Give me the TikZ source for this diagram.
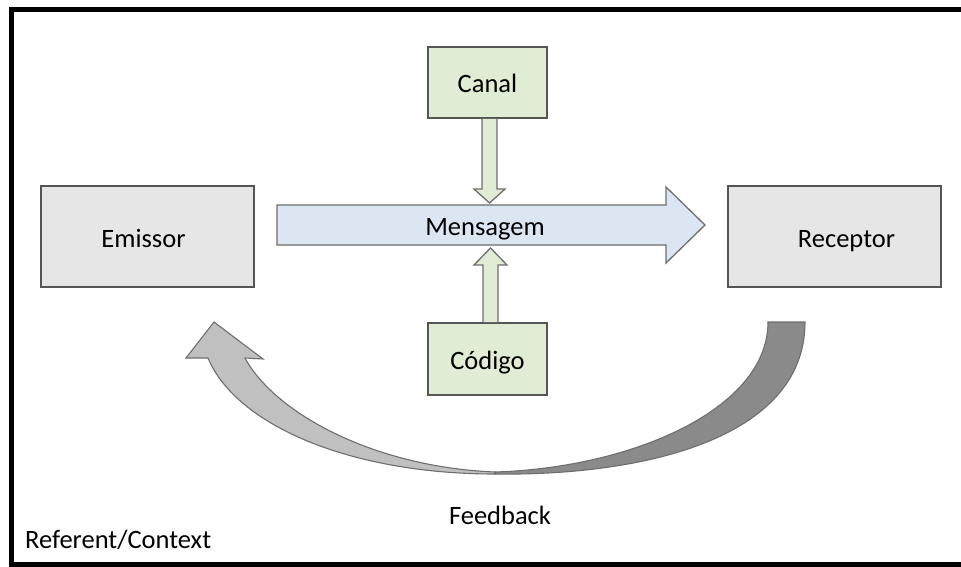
\documentclass[tikz,border=0pt]{standalone}
\usepackage{fontspec}
\setmainfont{Carlito}
\usetikzlibrary{calc}
\definecolor{boxgray}{RGB}{230,230,230}
\definecolor{boxgreen}{RGB}{225,236,213}
\definecolor{msgblue}{RGB}{220,230,242}
\definecolor{edgecol}{RGB}{85,85,85}
\definecolor{arrowedge}{RGB}{110,110,110}
\definecolor{fbdark}{RGB}{138,138,138}
\definecolor{fblight}{RGB}{192,192,192}
\begin{document}
\begin{tikzpicture}[x=1pt,y=-1pt,
  font=\fontsize{26.5}{30}\selectfont,
  graybox/.style={draw=edgecol, line width=1.6pt, fill=boxgray, inner sep=0pt, text height=21pt, text depth=0pt},
  greenbox/.style={draw=edgecol, line width=1.6pt, fill=boxgreen, inner sep=0pt, text height=21pt, text depth=0pt},
  blockarrow/.style={draw=arrowedge, line width=1.3pt, line join=miter},
  plaintext/.style={inner sep=0pt, text height=21pt, text depth=0pt}]
\useasboundingbox (0,0) rectangle (961,567);
\fill[white] (0,0) rectangle (961,567);
% frame
\draw[line width=5.5pt, line join=miter] (961,9.5) -- (11.5,9.5) -- (11.5,564.5) -- (961,564.5);

% boxes
\node[graybox, minimum width=213pt, minimum height=101pt] (emissor) at (147.5,236.5) {\hspace*{-8pt}Emissor};
\node[graybox, minimum width=213pt, minimum height=101pt] (receptor) at (834.5,236.5) {\hspace*{24pt}Receptor};
\node[greenbox, minimum width=119pt, minimum height=71pt] (canal) at (487.5,82.5) {Canal};
\node[greenbox, minimum width=119pt, minimum height=72pt] (codigo) at (487.5,359) {C\'odigo};

% Mensagem arrow
\draw[blockarrow, fill=msgblue] (277,205) -- (666,205) -- (666,187) -- (705,225) -- (666,263) -- (666,245) -- (277,245) -- cycle;
\node[plaintext] (mensagem) at (485,225) {Mensagem};

% Canal -> Mensagem
\draw[blockarrow, fill=boxgreen] ($(canal.south)+(-5.5,0)$) -- (482,189) -- (474,189) -- (489.5,203) -- (505,189) -- (497,189) -- ($(canal.south)+(9.5,0)$);
% Codigo -> Mensagem
\draw[blockarrow, fill=boxgreen] ($(codigo.north)+(-4.5,0)$) -- (483,265) -- (474,265) -- (490.5,248) -- (507,265) -- (498,265) -- ($(codigo.north)+(10.5,0)$);

% Feedback curved arrow
\coordinate (fbstart) at (786.5,322);
\coordinate (fbend) at (214,322);
\draw[blockarrow, fill=fblight, line width=1.1pt] (495,474) .. controls (350,474) and (236,425) .. (208,358)
  -- (186,358) -- (fbend) -- (263,359) -- (245,358)
  .. controls (274,412) and (372,467) .. (495,472) -- cycle;
\draw[blockarrow, fill=fbdark, line width=1.1pt] (768,322) -- (805,322)
  .. controls (805,440) and (640,476) .. (495,474)
  -- (495,472) .. controls (630,468) and (768,410) .. (768,322) -- cycle;

% labels
\node[plaintext] (feedback) at (500,514) {Feedback};
\node[plaintext, anchor=west] (referent) at (25,538) {Referent/Context};
\end{tikzpicture}
\end{document}
